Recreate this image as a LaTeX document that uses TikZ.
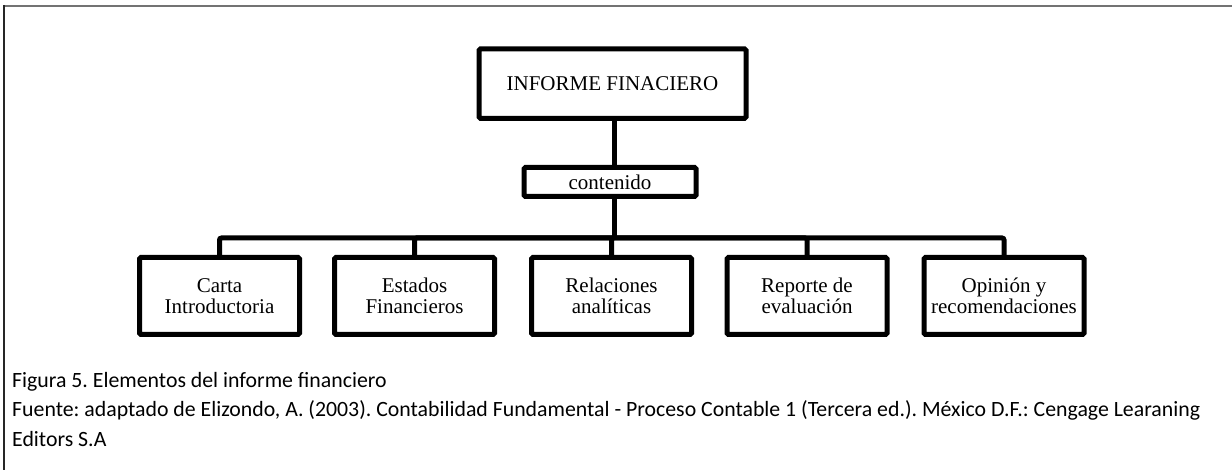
\documentclass[tikz,border=0pt]{standalone}
\usepackage{fontspec}
\setmainfont{Liberation Serif}
\newfontfamily\capfont{Carlito}
\frenchspacing
\begin{document}
\begin{tikzpicture}[x=1pt,y=-1pt,
  box/.style={draw, line width=5pt, rounded corners=1.5pt, align=center,
    font=\fontsize{21}{21.5}\selectfont, inner sep=0pt},
  childbox/.style={box, minimum width=160pt, minimum height=77pt},
  link/.style={line width=5pt, rounded corners=2pt},
  captext/.style={anchor=base west, inner sep=0pt, font=\capfont\fontsize{21.8}{24}\selectfont}]
\useasboundingbox (0,0) rectangle (1232,470);
% frame
\draw[black!55, line width=2pt] (4,6) -- (1232,6);
\draw[black!85, line width=1.3pt] (4,5) -- (4,470);
% nodes
\node[box, minimum width=267pt, minimum height=69.5pt] (top) at (612.5,83.7) {INFORME FINACIERO};
\node[box, minimum width=172pt, minimum height=29pt] (cont) at (610,182) {contenido};
\node[childbox] (c1) at (219.5,296) {Carta\\Introductoria};
\node[childbox] (c2) at (414.5,296) {Estados\\Financieros};
\node[childbox] (c3) at (611.5,296) {Relaciones\\analíticas};
\node[childbox] (c4) at (807,296) {Reporte de\\evaluación};
\node[childbox] (c5) at (1004,296) {Opinión y\\recomendaciones};
\coordinate (bar) at (614,238);
% connectors
\draw[link] (top.south -| bar) -- (cont.north -| bar);
\draw[link] (cont.south -| bar) -- (bar);
\foreach \c in {c1,c2,c3,c4,c5}{
  \draw[link] (bar) -| (\c.north);
}
% caption
\node[captext] (cap1) at (12,388) {Figura 5. Elementos del informe financiero};
\node[captext] (cap2) at (12,417) {Fuente: adaptado de Elizondo, A. (2003). Contabilidad Fundamental - Proceso Contable 1 (Tercera ed.). México D.F.: Cengage Learaning};
\node[captext] (cap3) at (12,446) {Editors S.A};
\end{tikzpicture}
\end{document}
